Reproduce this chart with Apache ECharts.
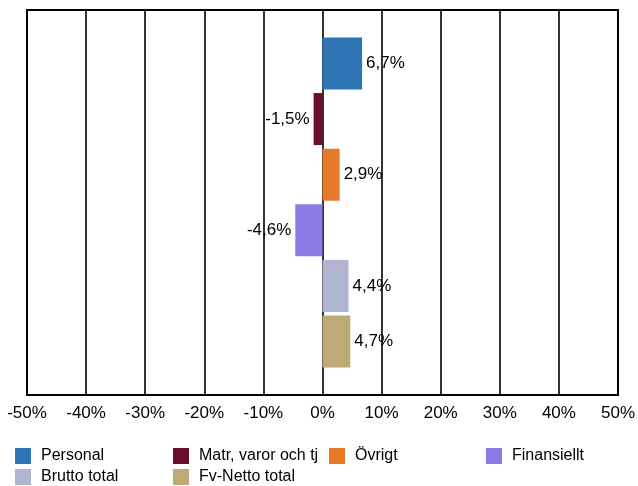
<!DOCTYPE html>
<html>
<head>
<meta charset="utf-8">
<script src="https://cdn.jsdelivr.net/npm/echarts@6/dist/echarts.min.js"></script>
<style>html,body{margin:0;padding:0;background:#fff;overflow:hidden}#c{width:638px;height:486px}</style>
</head>
<body>
<div id="c"></div>
<script>
const seriesNames = ['Personal', 'Matr, varor och tj', 'Övrigt', 'Finansiellt', 'Brutto total', 'Fv-Netto total'];
const seriesValues = [6.7, -1.5, 2.9, -4.6, 4.4, 4.7];
const seriesColors = ['#2E75B6', '#6B0E2C', '#E67A2A', '#8C7BE4', '#B0B5CF', '#BEAA77'];
const categories = [''];
const xTicks = [-50, -40, -30, -20, -10, 0, 10, 20, 30, 40, 50];

const FONT = '"Liberation Sans", Arial, sans-serif';
const chart = echarts.init(document.getElementById('c'));

const legendPos = [[15, 448], [173, 448], [329, 448], [486, 448], [15, 469], [173, 469]];

const option = {
  animation: false,
  grid: { left: 27, right: 16, top: 10, bottom: 91, show: true, borderColor: '#000', borderWidth: 2, containLabel: false },
  xAxis: {
    type: 'value',
    min: xTicks[0],
    max: xTicks[xTicks.length - 1],
    interval: 10,
    axisLine: { show: false },
    axisTick: { show: false },
    splitLine: { show: true, lineStyle: { color: '#000', width: 1.6 } },
    axisLabel: { color: '#000', fontSize: 17, fontFamily: FONT, margin: 10, formatter: v => v + '%' }
  },
  yAxis: {
    type: 'category',
    data: categories,
    inverse: true,
    axisLine: { show: false },
    axisTick: { show: false },
    axisLabel: { show: false },
    splitLine: { show: false }
  },
  legend: seriesNames.map((n, i) => ({
    data: [n],
    left: legendPos[i][0],
    top: legendPos[i][1],
    padding: 0,
    itemWidth: 16,
    itemHeight: 16,
    icon: 'rect',
    itemStyle: { borderWidth: 0 },
    textStyle: { color: '#000', fontSize: 16, fontFamily: FONT, padding: [0, 0, 0, 5] },
    selectedMode: false
  })),
  series: seriesNames.map((n, i) => ({
    name: n,
    type: 'bar',
    data: [seriesValues[i]],
    barWidth: 52,
    barGap: '7%',
    itemStyle: { color: seriesColors[i] },
    label: {
      show: true,
      position: seriesValues[i] >= 0 ? 'right' : 'left',
      distance: 4,
      color: '#000',
      fontSize: 17,
      fontFamily: FONT,
      formatter: p => p.value.toFixed(1).replace('.', ',') + '%'
    }
  }))
};
chart.setOption(option);
</script>
</body>
</html>
